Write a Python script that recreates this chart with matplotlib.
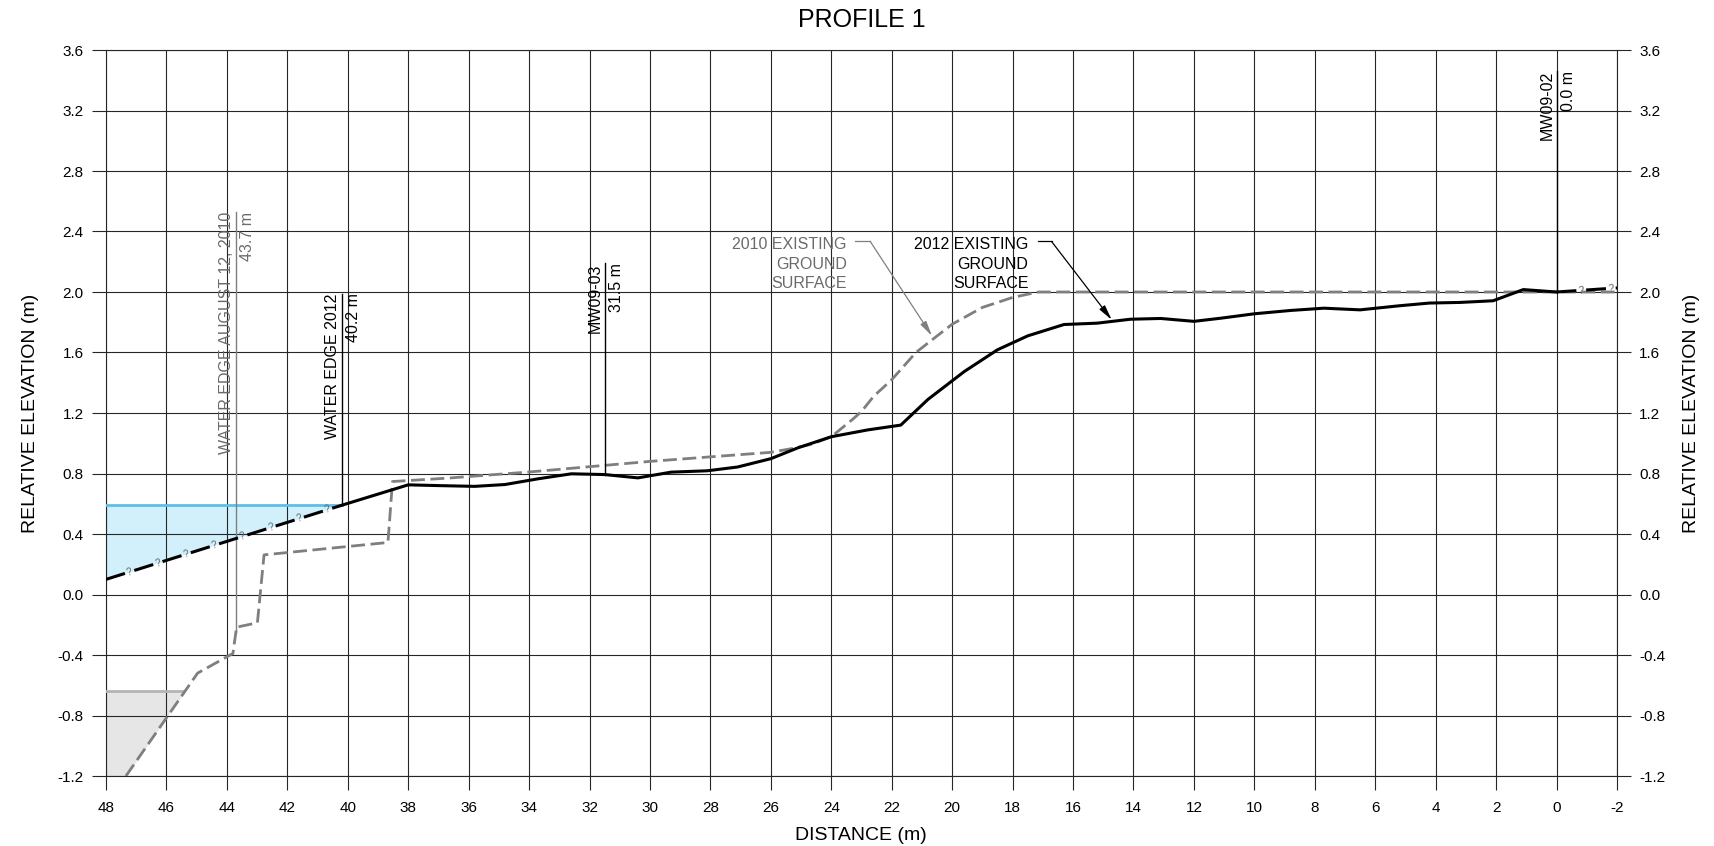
import matplotlib.pyplot as plt
import numpy as np

plt.rcParams['font.family'] = ['Liberation Sans', 'DejaVu Sans']
plt.rcParams['axes.unicode_minus'] = False

# --- data ---
dist_2012 = [48.0, 40.2, 38.0, 37.0, 35.8, 34.8, 33.7, 32.6, 31.5, 30.4, 29.3, 28.1,
             27.1, 26.0, 25.1, 24.0, 22.8, 21.7, 20.8, 19.6, 18.5, 17.5, 16.3, 15.2,
             14.1, 13.1, 12.0, 11.1, 10.0, 8.8, 7.7, 6.5, 5.2, 4.2, 3.2, 2.1, 1.1,
             0.0, -2.0]
elev_2012 = [0.10, 0.59, 0.725, 0.72, 0.715, 0.727, 0.765, 0.798, 0.793, 0.771, 0.809,
             0.818, 0.843, 0.898, 0.97, 1.043, 1.088, 1.12, 1.29, 1.474, 1.618, 1.71,
             1.785, 1.794, 1.82, 1.825, 1.806, 1.827, 1.856, 1.878, 1.893, 1.882, 1.909,
             1.927, 1.931, 1.942, 2.016, 2.0, 2.027]

dist_2010 = [47.34, 44.97, 43.80, 43.68, 42.99, 42.77, 38.67, 38.52, 36.65, 34.0, 30.0,
             26.0, 25.3, 24.64, 24.0, 23.3, 23.0, 22.6, 22.0, 21.2, 20.56, 20.0, 19.0,
             18.0, 17.15, -2.0]
elev_2010 = [-1.20, -0.52, -0.39, -0.216, -0.187, 0.262, 0.344, 0.747, 0.77, 0.81, 0.88,
             0.94, 0.965, 0.994, 1.043, 1.157, 1.21, 1.31, 1.42, 1.60, 1.70, 1.787, 1.898,
             1.964, 2.0, 2.0]

water_level_2012 = 0.59
water_edge_2012 = 40.2
low_zone_level = -0.64
mw_0902 = 0.0

callout_x = [43.7, 40.2, 31.5, 0.0]
callout_top = [2.53, 1.99, 2.19, 3.46]
callout_name = ['WATER EDGE AUGUST 12, 2010', 'WATER EDGE 2012', 'MW09-03', 'MW09-02']
callout_dist = ['43.7 m', '40.2 m', '31.5 m', '0.0 m']
callout_year = [2010, 2012, 2012, 2012]

x_ticks = np.arange(48, -3, -2)
y_ticks = np.arange(-1.2, 3.61, 0.4)

GRID = '#262626'
GRAY = '#7f7f7f'
TEXT_GRAY = '#6b6b6b'


def ground(x, dist, elev):
    return np.interp(x, dist[::-1], elev[::-1])


def question_line(ax, xs, ys, color, lw, dash, gap):
    # dashed line with small "?" placed in the gaps
    ax.plot(xs, ys, color=color, lw=lw, dashes=(dash, gap), zorder=4,
            solid_capstyle='butt', dash_capstyle='butt')
    pts = ax.transData.transform(np.column_stack([xs, ys])) * 72.0 / ax.figure.dpi
    seg = np.hypot(np.diff(pts[:, 0]), np.diff(pts[:, 1]))
    s = np.concatenate([[0], np.cumsum(seg)])
    cycle = (dash + gap) * lw
    marks = np.arange(dash * lw + gap * lw / 2, s[-1], cycle)
    for m in marks:
        i = min(max(np.searchsorted(s, m) - 1, 0), len(seg) - 1)
        mx = np.interp(m, s, xs)
        my = np.interp(m, s, ys)
        ang = np.degrees(np.arctan2(pts[i + 1, 1] - pts[i, 1], pts[i + 1, 0] - pts[i, 0]))
        ax.text(mx, my, '?', fontsize=7, color='#666666', ha='center', va='center',
                rotation=ang, rotation_mode='anchor', zorder=5)


fig = plt.figure(figsize=(17.14, 8.46), dpi=100)
ax = fig.add_axes([106 / 1714, 70 / 846, 1511 / 1714, 726 / 846])
ax.set_xlim(48, -2)
ax.set_ylim(-1.2, 3.6)

ax.set_xticks(x_ticks)
ax.set_xticklabels([str(int(v)) for v in x_ticks])
ax.set_yticks(y_ticks)
ax.set_yticklabels(['%.1f' % v for v in y_ticks])
ax.grid(True, color=GRID, lw=0.8)
ax.set_axisbelow(True)
for sp in ax.spines.values():
    sp.set_color(GRID)
    sp.set_linewidth(0.8)
ax.tick_params(axis='both', direction='out', length=10, width=0.8, color=GRID,
               labelsize=11)
ax.tick_params(axis='x', pad=8)
ax.tick_params(axis='y', left=True, right=True, labelleft=True, labelright=True, pad=6)

d12 = np.array(dist_2012)
e12 = np.array(elev_2012)
d10 = np.array(dist_2010)
e10 = np.array(elev_2010)

# water wedge (2012)
xw = np.linspace(48, water_edge_2012, 50)
ax.fill_between(xw, ground(xw, d12, e12), water_level_2012, color='#d2f0fc', lw=0, zorder=0.3)
ax.plot([48, water_edge_2012], [water_level_2012, water_level_2012], color='#5cbfe8', lw=2,
        zorder=3)

# grey zone at bottom left
xg = np.linspace(45.41, 48, 50)
ax.fill_between(xg, np.maximum(ground(xg, d10, e10), -1.2), low_zone_level, color='#e6e6e6',
                lw=0, zorder=0.3)
ax.plot([48, 45.41], [low_zone_level, low_zone_level], color='#b4b4b4', lw=2, zorder=3)

# 2010 surface
ax.plot(d10, e10, color=GRAY, lw=2, dashes=(5, 2), zorder=3)

# 2012 surface: solid between the water edge and MW09-02, uncertain beyond
solid = (d12 <= water_edge_2012) & (d12 >= mw_0902)
ax.plot(d12[solid], e12[solid], color='black', lw=2.2, zorder=4)
left = d12 >= water_edge_2012
right = d12 <= mw_0902
question_line(ax, d12[left], e12[left], 'black', 2.2, 6.5, 3.2)
question_line(ax, d12[right], e12[right], 'black', 2.2, 6.5, 3.2)

# callout lines with labels
for x, top, name, dist, year in zip(callout_x, callout_top, callout_name, callout_dist,
                                    callout_year):
    if year == 2010:
        col, tcol = GRAY, TEXT_GRAY
        bottom = ground(x, d10, e10)
    else:
        col, tcol = 'black', 'black'
        bottom = ground(x, d12, e12)
    ax.plot([x, x], [bottom, top], color=col, lw=1.0, zorder=3)
    ax.annotate(name, xy=(x, top), xytext=(-1.5, 0), textcoords='offset points',
                rotation=90, rotation_mode='anchor', ha='right', va='bottom',
                fontsize=11.5, color=tcol)
    ax.annotate(dist, xy=(x, top), xytext=(3, 0), textcoords='offset points',
                rotation=90, rotation_mode='anchor', ha='right', va='top',
                fontsize=11.5, color=tcol)

# surface labels with leaders
ax.text(23.48, 2.365, '2010 EXISTING\nGROUND\nSURFACE', ha='right', va='top',
        multialignment='right', fontsize=11.5, color=TEXT_GRAY, linespacing=1.4)
ax.plot([23.21, 22.71], [2.334, 2.334], color=GRAY, lw=0.9, zorder=5)
ax.annotate('', xy=(20.67, 1.71), xytext=(22.71, 2.334),
            arrowprops=dict(arrowstyle='-|>,head_length=0.9,head_width=0.2',
                            color=GRAY, lw=0.9, shrinkA=0, shrinkB=0), zorder=5)

ax.text(17.48, 2.365, '2012 EXISTING\nGROUND\nSURFACE', ha='right', va='top',
        multialignment='right', fontsize=11.5, color='black', linespacing=1.4)
ax.plot([17.15, 16.71], [2.334, 2.334], color='black', lw=0.9, zorder=5)
ax.annotate('', xy=(14.72, 1.816), xytext=(16.71, 2.334),
            arrowprops=dict(arrowstyle='-|>,head_length=0.9,head_width=0.2',
                            color='black', lw=0.9, shrinkA=0, shrinkB=0), zorder=5)

# titles and axis labels
fig.text(862 / 1714, 1 - 20 / 846, 'PROFILE 1', ha='center', va='center', fontsize=18)
fig.text(861 / 1714, 1 - 835 / 846, 'DISTANCE (m)', ha='center', va='center', fontsize=14)
fig.text(31 / 1714, 1 - 413 / 846, 'RELATIVE ELEVATION (m)', ha='center', va='center',
         rotation=90, fontsize=14)
fig.text(1692 / 1714, 1 - 413 / 846, 'RELATIVE ELEVATION (m)', ha='center', va='center',
         rotation=90, fontsize=14)

fig.savefig('out.png', dpi=100)
